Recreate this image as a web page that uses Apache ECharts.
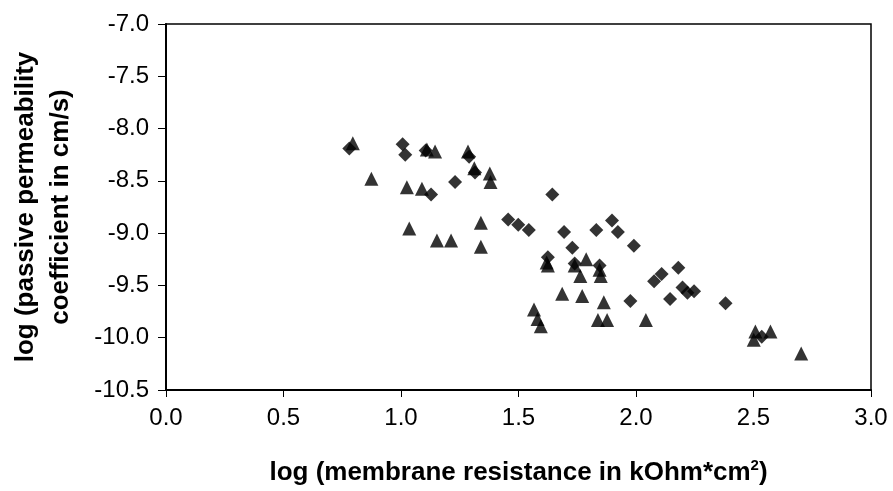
<!DOCTYPE html>
<html>
<head>
<meta charset="utf-8">
<script src="https://cdn.jsdelivr.net/npm/echarts@6/dist/echarts.min.js"></script>
<style>
html,body{margin:0;padding:0;background:#fff;}
#chart{width:893px;height:491px;}
</style>
</head>
<body>
<div id="chart"></div>
<script>
// Series 1: diamonds [log membrane resistance, log permeability]
const diamondData = [
  [0.78,-8.19],[1.007,-8.15],[1.018,-8.25],[1.105,-8.21],[1.128,-8.63],
  [1.23,-8.51],[1.29,-8.27],[1.315,-8.42],[1.456,-8.87],[1.499,-8.92],
  [1.544,-8.97],[1.644,-8.63],[1.694,-8.99],[1.729,-9.14],[1.625,-9.23],
  [1.739,-9.29],[1.831,-8.97],[1.898,-8.88],[1.923,-8.99],[1.991,-9.12],
  [1.845,-9.31],[1.976,-9.65],[2.077,-9.46],[2.109,-9.39],[2.18,-9.33],
  [2.198,-9.52],[2.219,-9.57],[2.247,-9.555],[2.145,-9.63],[2.381,-9.67],
  [2.535,-9.99]
];
// Series 2: triangles
const triangleData = [
  [0.795,-8.14],[0.874,-8.48],[1.025,-8.56],[1.035,-8.955],[1.089,-8.575],
  [1.11,-8.20],[1.145,-8.22],[1.153,-9.07],[1.213,-9.07],[1.285,-8.22],
  [1.312,-8.38],[1.34,-8.90],[1.34,-9.13],[1.378,-8.43],[1.381,-8.51],
  [1.566,-9.73],[1.581,-9.82],[1.595,-9.89],[1.62,-9.28],[1.625,-9.31],
  [1.686,-9.58],[1.739,-9.31],[1.763,-9.41],[1.788,-9.25],[1.771,-9.60],
  [1.845,-9.35],[1.85,-9.41],[1.863,-9.66],[1.838,-9.83],[1.877,-9.83],
  [2.042,-9.83],[2.508,-9.94],[2.501,-10.02],[2.572,-9.94],[2.703,-10.15]
];
const xRange = [0.0, 3.0];
const yRange = [-10.5, -7.0];
const tickStep = 0.5;
const xTitle = 'log (membrane resistance in kOhm*cm{sup|2})';
const yTitle = 'log (passive permeability\ncoefficient in cm/s)';

const chart = echarts.init(document.getElementById('chart'), null, {renderer:'canvas'});
const FONT = 'Liberation Sans, Arial, sans-serif';
chart.setOption({
  backgroundColor:'#fff',
  animation:false,
  grid:{left:163, top:24, width:708, height:369, show:true, borderColor:'#000', borderWidth:1.5, containLabel:false},
  xAxis:{
    type:'value', min:xRange[0], max:xRange[1], interval:tickStep,
    axisLine:{show:true, onZero:false, lineStyle:{color:'#000', width:2}},
    axisTick:{show:true, inside:false, length:7, lineStyle:{color:'#000', width:1}},
    splitLine:{show:false},
    axisLabel:{color:'#000', fontSize:24, fontFamily:FONT, margin:16, formatter:v=>v.toFixed(1)},
    name:xTitle, nameLocation:'middle', nameGap:68,
    nameTextStyle:{color:'#000', fontSize:26, fontWeight:'bold', fontFamily:FONT,
      rich:{sup:{fontSize:15, fontWeight:'bold', fontFamily:FONT, verticalAlign:'top', padding:[0,0,15,0]}}}
  },
  yAxis:{
    type:'value', min:yRange[0], max:yRange[1], interval:tickStep,
    axisLine:{show:true, onZero:false, lineStyle:{color:'#000', width:2}},
    axisTick:{show:true, inside:false, length:8, lineStyle:{color:'#000', width:1}},
    splitLine:{show:false},
    axisLabel:{color:'#000', fontSize:24, fontFamily:FONT, margin:17, formatter:v=>v.toFixed(1)},
    name:yTitle, nameLocation:'middle', nameGap:88, nameRotate:90,
    nameTextStyle:{color:'#000', fontSize:26, fontWeight:'bold', fontFamily:FONT, lineHeight:35, align:'center'}
  },
  series:[
    {type:'scatter', name:'diamond', symbol:'diamond', symbolSize:14, data:diamondData,
      itemStyle:{color:'#000'}},
    {type:'scatter', name:'triangle', symbol:'triangle', symbolSize:14, data:triangleData,
      itemStyle:{color:'#000'}}
  ]
});
</script>
</body>
</html>
